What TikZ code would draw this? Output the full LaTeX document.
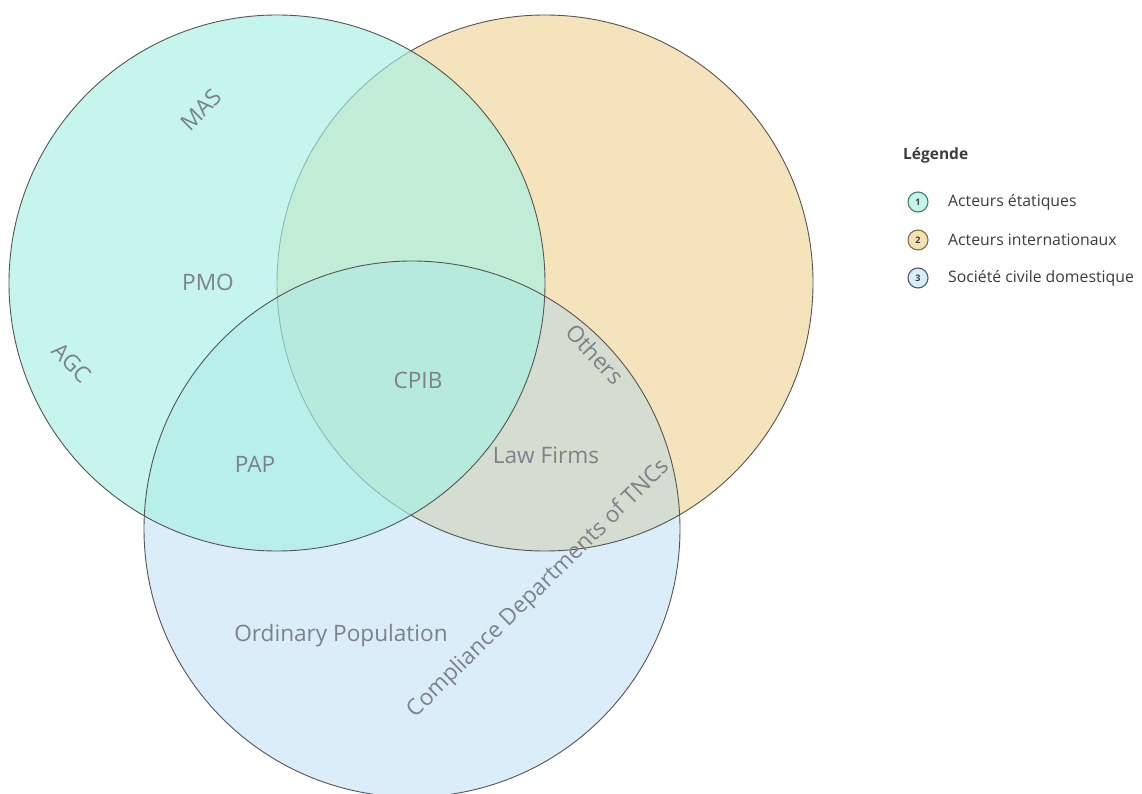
\documentclass[tikz,border=0pt]{standalone}
\usepackage{fontspec}
\setmainfont{Open Sans}
\definecolor{orangeF}{RGB}{245,228,187}
\definecolor{tealF}{RGB}{166,241,228}
\definecolor{blueF}{RGB}{165,212,240}
\definecolor{edge}{RGB}{85,85,85}
\definecolor{lbltxt}{RGB}{125,130,138}
\definecolor{legtxt}{RGB}{60,60,60}
\definecolor{lgA}{RGB}{196,244,233}
\definecolor{lgAe}{RGB}{70,125,112}
\definecolor{lgB}{RGB}{245,226,180}
\definecolor{lgBe}{RGB}{130,108,65}
\definecolor{lgC}{RGB}{218,236,250}
\definecolor{lgCe}{RGB}{75,90,118}
\tikzset{
  lbl/.style={text=lbltxt, font=\fontsize{22.6}{26}\selectfont, inner sep=0pt},
  legitem/.style={text=legtxt, font=\fontsize{15.8}{18}\selectfont, anchor=west, inner sep=0pt},
  legdot/.style={circle, draw=#1e, fill=#1, line width=1.1pt, minimum size=20pt, inner sep=0pt,
     font=\bfseries\fontsize{9}{10}\selectfont, text=legtxt},
  ring/.style={draw=edge, line width=0.9pt}
}
\begin{document}
\begin{tikzpicture}[x=1pt,y=-1pt]
\useasboundingbox (0,0) rectangle (1142,794);
\fill[white] (0,0) rectangle (1142,794);
% fills and strokes
\fill[orangeF] (545,283) circle[radius=268];
\fill[blueF, fill opacity=0.4] (412,529) circle[radius=268];
\draw[ring] (545,283) circle[radius=268];
\fill[tealF, fill opacity=0.65] (277,283) circle[radius=268];
\draw[ring] (412,529) circle[radius=268];
\draw[ring] (277,283) circle[radius=268];
% labels
\node[lbl, rotate=45] (mas) at (201,110) {MAS};
\node[lbl] (pmo) at (208,282) {PMO};
\node[lbl, rotate=-45] (agc) at (72,363) {AGC};
\node[lbl] (cpib) at (418,380) {CPIB};
\node[lbl] (pap) at (255,464) {PAP};
\node[lbl] (law) at (546,455) {Law Firms};
\node[lbl, rotate=-47] (others) at (595,354) {Others};
\node[lbl] (ordpop) at (341,636) {Ordinary Population};
\node[lbl, rotate=44.5] (comp) at (539,589) {Compliance Departments of TNCs};
% legend
\node[text=legtxt, font=\bfseries\fontsize{15.5}{18}\selectfont, anchor=west, inner sep=0pt] (legtitle) at (903,155) {Légende};
\node[legdot=lgA] (d1) at (918,202) {1};
\node[legdot=lgB] (d2) at (918,240) {2};
\node[legdot=lgC] (d3) at (918,278) {3};
\node[legitem] (t1) at (948,202) {Acteurs étatiques};
\node[legitem] (t2) at (948,240) {Acteurs internationaux};
\node[legitem] (t3) at (948,278) {Société civile domestique};
\end{tikzpicture}
\end{document}
